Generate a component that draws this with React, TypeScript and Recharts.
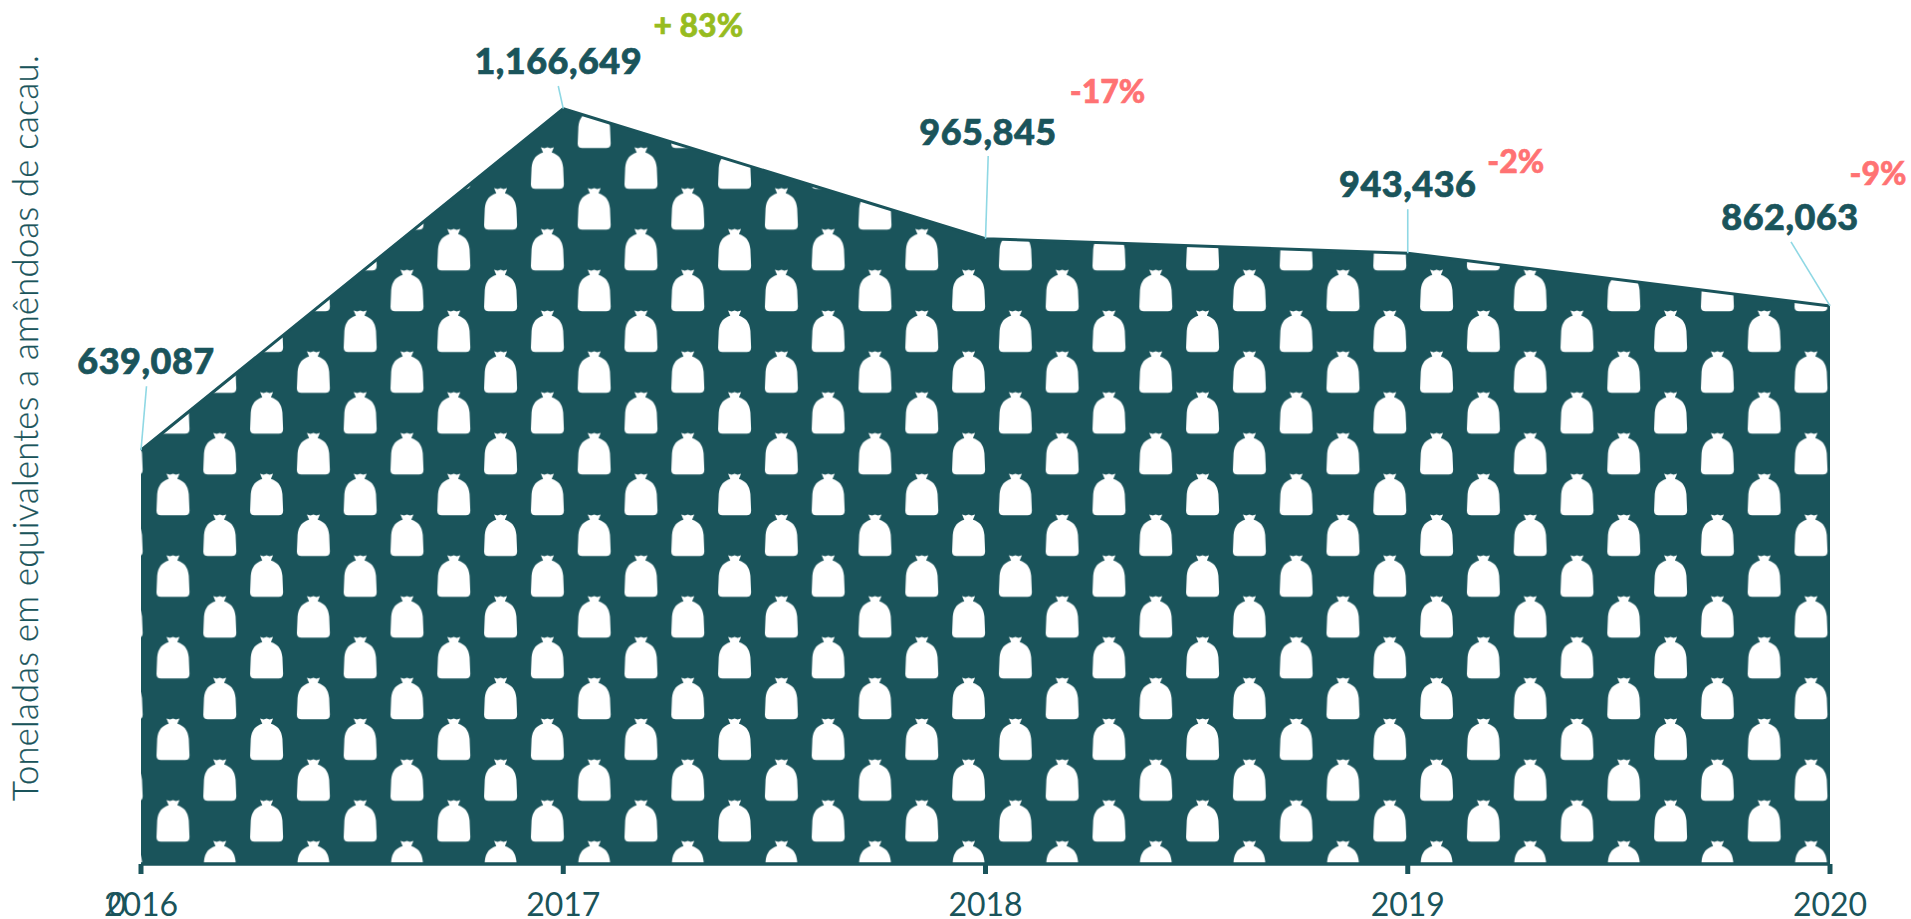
import React from "react"
import { AreaChart, Area, XAxis, YAxis, LabelList } from "recharts"

const years = ["2016", "2017", "2018", "2019", "2020"]
const tons = [639087, 1166649, 965845, 943436, 862063]
const changes = ["", "+ 83%", "-17%", "-2%", "-9%"]

const DARK = "#1a545b"
const LEADER = "#8fd8e4"
const UP = "#97bc1f"
const DOWN = "#ff7273"
const FONT = "Lato, sans-serif"

// callout placement relative to each data point
const valueOffsets = [
  { dx: 5, dy: -90 },
  { dx: -5, dy: -48.5 },
  { dx: 2.5, dy: -107.5 },
  { dx: 0, dy: -70 },
  { dx: -40, dy: -90 },
]
const leaderEnds = [
  { dx: 5.5, dy: -64 },
  { dx: -5, dy: -22.7 },
  { dx: 2.7, dy: -82.7 },
  { dx: 0, dy: -44 },
  { dx: -39, dy: -64 },
]
const changeOffsets = [
  { dx: 0, dy: 0 },
  { dx: 135, dy: -84.7 },
  { dx: 122, dy: -148 },
  { dx: 108, dy: -93 },
  { dx: 48, dy: -133 },
]

const data = years.map((year, i) => ({
  year,
  tons: tons[i],
  change: changes[i],
}))

function Bag({ x, y }: { x: number; y: number }) {
  return (
    <path
      transform={`translate(${x} ${y})`}
      fill="#fff"
      filter="url(#bagBlur)"
      d="M10 0.4 L13.5 1.6 L16.5 0.4 L19.5 1.6 L23 0.4 L20.8 5.6 C27 7.5 31.5 11.5 32.3 21 L33 37.5 Q33 42 28.5 42 L4.5 42 Q0 42 0 37.5 L0.7 21 C1.5 11.5 6 7.5 12.2 5.6 Z"
    />
  )
}

function Callout(props: any) {
  const { x, y, value, index } = props
  const val = valueOffsets[index]
  const end = leaderEnds[index]
  const chg = changeOffsets[index]
  const chgColor = changes[index].startsWith("+") ? UP : DOWN
  return (
    <g>
      <line x1={x} y1={y} x2={x + end.dx} y2={y + end.dy} stroke={LEADER} strokeWidth={1.6} />
      <text
        x={x + val.dx}
        y={y + val.dy}
        textAnchor="middle"
        dominantBaseline="central"
        fontFamily={FONT}
        fontWeight={900}
        fontSize={36}
        letterSpacing={0.5}
        fill={DARK}
        stroke={DARK}
        strokeWidth={0.7}
      >
        {Number(value).toLocaleString("en-US")}
      </text>
      {changes[index] && (
        <text
          x={x + chg.dx}
          y={y + chg.dy}
          textAnchor="middle"
          dominantBaseline="central"
          fontFamily={FONT}
          fontWeight={900}
          fontSize={32}
          fill={chgColor}
          stroke={chgColor}
          strokeWidth={0.6}
        >
          {changes[index]}
        </text>
      )}
    </g>
  )
}

function YearTick(props: any) {
  const { x, payload, index } = props
  return (
    <g fontFamily={FONT} fontSize={32} fill={DARK}>
      <text x={x} y={916} textAnchor="middle">
        {payload.value}
      </text>
      {/* stray zero from the value axis, sits on top of the first year */}
      {index === 0 && (
        <text x={x - 24} y={916} textAnchor="middle">
          0
        </text>
      )}
    </g>
  )
}

export default function App() {
  return (
    <div style={{ position: "absolute", left: 0, top: 0, width: 1911, height: 919 }}>
      <AreaChart
        width={1911}
        height={919}
        data={data}
        margin={{ top: 108.7, right: 81, bottom: 0, left: 141 }}
      >
        <defs>
          <filter id="bagBlur" x="-10%" y="-10%" width="120%" height="120%">
            <feGaussianBlur stdDeviation="0.6" />
          </filter>
          <pattern id="bags" patternUnits="userSpaceOnUse" x={156.5} y={718} width={93.6} height={81.6}>
            <rect width={93.6} height={81.6} fill={DARK} />
            <Bag x={0} y={0} />
            <Bag x={46.8} y={40.8} />
            <Bag x={46.8} y={-40.8} />
          </pattern>
        </defs>
        <XAxis
          dataKey="year"
          height={55}
          interval={0}
          tickSize={10}
          axisLine={{ stroke: DARK, strokeWidth: 3.5 }}
          tickLine={{ stroke: DARK, strokeWidth: 5 }}
          tick={<YearTick />}
        />
        <YAxis hide domain={[0, 1166649]} />
        <Area
          type="linear"
          dataKey="tons"
          stroke={DARK}
          strokeWidth={3}
          fill="url(#bags)"
          fillOpacity={1}
          dot={false}
          activeDot={false}
          isAnimationActive={false}
        >
          <LabelList dataKey="tons" content={<Callout />} />
        </Area>
        <text
          transform="translate(38 428) rotate(-90)"
          textAnchor="middle"
          fontFamily={FONT}
          fontWeight={300}
          fontSize={34.5}
          letterSpacing={0.3}
          fill={DARK}
          stroke={DARK}
          strokeWidth={0.25}
        >
          Toneladas em equivalentes a amêndoas de cacau.
        </text>
      </AreaChart>
    </div>
  )
}
